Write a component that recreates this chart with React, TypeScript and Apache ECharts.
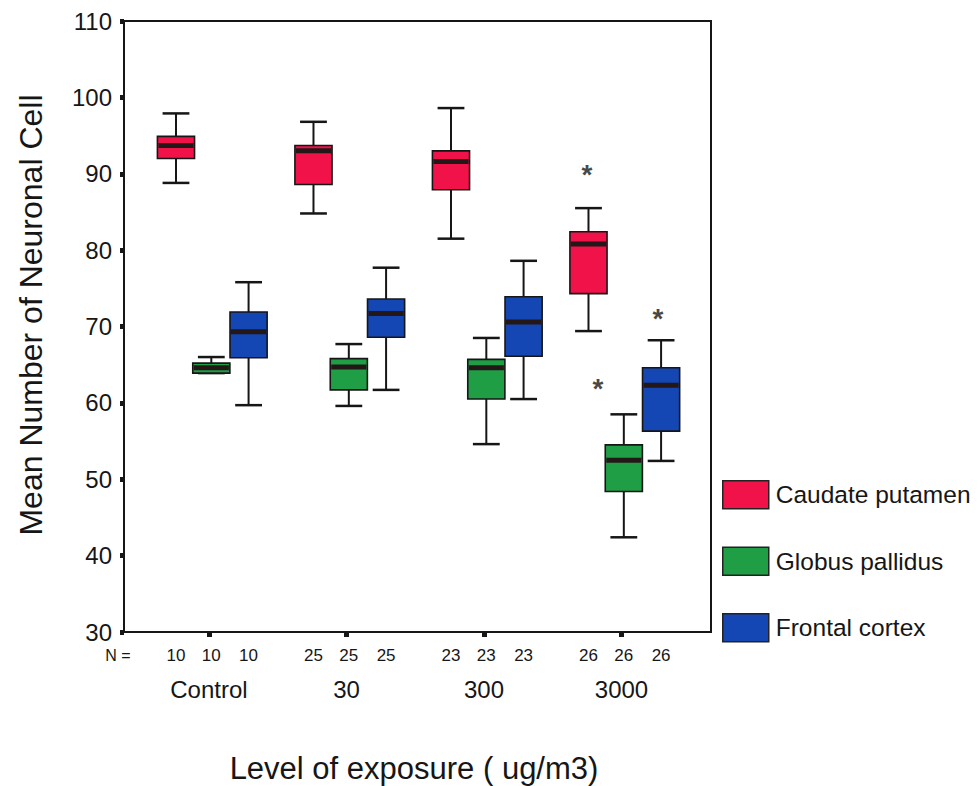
import React, { useEffect, useRef } from "react";
import * as echarts from "echarts";

// ---- data ----
const groups = ["Control", "30", "300", "3000"];
const seriesNames = ["Caudate putamen", "Globus pallidus", "Frontal cortex"];
const nCounts = [10, 25, 23, 26];

// [min, Q1, median, Q3, max]
const caudatePutamen = [
  [88.8, 92.0, 93.7, 94.9, 97.9],
  [84.8, 88.6, 93.0, 93.7, 96.8],
  [81.5, 87.9, 91.6, 93.0, 98.6],
  [69.4, 74.3, 80.8, 82.4, 85.5],
];
const globusPallidus = [
  [63.9, 63.9, 64.6, 65.2, 66.0],
  [59.6, 61.7, 64.7, 65.8, 67.7],
  [54.6, 60.5, 64.6, 65.7, 68.5],
  [42.4, 48.4, 52.5, 54.5, 58.5],
];
const frontalCortex = [
  [59.7, 65.9, 69.3, 71.9, 75.8],
  [61.7, 68.6, 71.7, 73.6, 77.7],
  [60.5, 66.1, 70.6, 73.9, 78.6],
  [52.4, 56.3, 62.3, 64.6, 68.2],
];

// significance markers (*): group index, value
const starGroups = [3, 3, 3];
const starValues = [90.5, 62.6, 71.7];

// ---- layout / style ----
const COLORS = ["#F2124A", "#1F9E45", "#1446B4"];
const SERIES_OFFSET = [-0.24, 0.017, 0.288];
const STAR_OFFSET = [-0.251, -0.171, 0.265];
const BOX_UNITS = 0.27;
const CAP_UNITS = 0.195;
const X_MIN = -0.618;
const X_MAX = 3.651;
const FONT = "'Liberation Sans', Arial, Helvetica, sans-serif";
const INK = "#161616";

const allData = [caudatePutamen, globusPallidus, frontalCortex];
const nPositions: number[] = [];
const nLabels: string[] = [];
groups.forEach((_, gi) => {
  SERIES_OFFSET.forEach((off) => {
    nPositions.push(gi + off);
    nLabels.push(String(nCounts[gi]));
  });
});

export default function App() {
  const ref = useRef<HTMLDivElement>(null);
  useEffect(() => {
    if (!ref.current) return;
    const chart = echarts.init(ref.current, undefined, { renderer: "svg" });

    const boxSeries = allData.map((rows, si) => ({
      type: "custom",
      name: seriesNames[si],
      xAxisIndex: 0,
      yAxisIndex: 0,
      itemStyle: { color: COLORS[si] },
      encode: { x: 0, y: [1, 2, 3, 4, 5] },
      data: rows.map((r, gi) => [gi + SERIES_OFFSET[si], ...r]),
      renderItem: (params: any, api: any) => {
        const x = api.value(0);
        const lo = api.coord([x, api.value(1)]);
        const q1 = api.coord([x, api.value(2)]);
        const med = api.coord([x, api.value(3)]);
        const q3 = api.coord([x, api.value(4)]);
        const hi = api.coord([x, api.value(5)]);
        const bw = api.size([BOX_UNITS, 0])[0];
        const cw = api.size([CAP_UNITS, 0])[0];
        const cx = lo[0];
        const ls = { stroke: INK, lineWidth: 2 };
        return {
          type: "group",
          children: [
            { type: "line", shape: { x1: cx, y1: hi[1], x2: cx, y2: q3[1] }, style: ls },
            { type: "line", shape: { x1: cx, y1: q1[1], x2: cx, y2: lo[1] }, style: ls },
            { type: "line", shape: { x1: cx - cw / 2, y1: hi[1], x2: cx + cw / 2, y2: hi[1] }, style: { stroke: INK, lineWidth: 2.5 } },
            { type: "line", shape: { x1: cx - cw / 2, y1: lo[1], x2: cx + cw / 2, y2: lo[1] }, style: { stroke: INK, lineWidth: 2.5 } },
            {
              type: "rect",
              shape: { x: cx - bw / 2, y: q3[1], width: bw, height: Math.max(q1[1] - q3[1], 1) },
              style: { fill: COLORS[si], stroke: INK, lineWidth: 1.6 },
            },
            {
              type: "line",
              shape: { x1: cx - bw / 2 + 1, y1: med[1], x2: cx + bw / 2 - 1, y2: med[1] },
              style: { stroke: "#231717", lineWidth: 5 },
            },
          ],
        };
      },
    }));

    const option: any = {
      animation: false,
      backgroundColor: "#ffffff",
      textStyle: { fontFamily: FONT },
      grid: {
        left: 124,
        right: 268,
        top: 21,
        bottom: 154,
        show: true,
        borderColor: INK,
        borderWidth: 2,
        backgroundColor: "transparent",
      },
      legend: {
        orient: "vertical",
        left: 722,
        top: 480,
        padding: 0,
        itemWidth: 46,
        itemHeight: 28,
        itemGap: 37,
        icon: "rect",
        selectedMode: false,
        itemStyle: { borderColor: "#222", borderWidth: 1.5 },
        textStyle: { fontSize: 24.5, color: INK, fontFamily: FONT, padding: [0, 0, 0, 2] },
        data: seriesNames,
      },
      xAxis: [
        {
          type: "value",
          min: X_MIN,
          max: X_MAX,
          position: "bottom",
          splitLine: { show: false },
          axisLine: { show: true, onZero: false, lineStyle: { color: INK, width: 2 } },
          axisTick: {
            show: true,
            customValues: [0, 1, 2, 3],
            length: 5,
            lineStyle: { color: INK, width: 5 },
          },
          axisLabel: {
            show: true,
            customValues: [0, 1, 2, 3],
            margin: 45,
            fontSize: 24,
            color: INK,
            fontFamily: FONT,
            formatter: (v: number) => groups[Math.round(v)] ?? "",
          },
        },
        {
          type: "value",
          min: X_MIN,
          max: X_MAX,
          position: "bottom",
          offset: 0,
          splitLine: { show: false },
          axisLine: { show: false, onZero: false },
          axisTick: { show: false },
          axisLabel: {
            show: true,
            customValues: nPositions,
            margin: 15,
            fontSize: 17,
            color: INK,
            fontFamily: FONT,
            formatter: (v: number) => {
              const i = nPositions.findIndex((p) => Math.abs(p - v) < 1e-6);
              return i >= 0 ? nLabels[i] : "";
            },
          },
        },
      ],
      yAxis: {
        type: "value",
        min: 30,
        max: 110,
        interval: 10,
        splitLine: { show: false },
        axisLine: { show: true, onZero: false, lineStyle: { color: INK, width: 2 } },
        axisTick: { show: true, length: 4, lineStyle: { color: INK, width: 5 } },
        axisLabel: { fontSize: 24, color: INK, margin: 12, fontFamily: FONT },
      },
      graphic: [
        {
          type: "text",
          x: 31,
          y: 315,
          rotation: Math.PI / 2,
          style: {
            text: "Mean Number of Neuronal Cell",
            fontSize: 32,
            fontFamily: FONT,
            fill: INK,
            align: "center",
            verticalAlign: "middle",
          },
        },
        {
          type: "text",
          x: 414,
          y: 768,
          style: {
            text: "Level of exposure ( ug/m3)",
            fontSize: 31,
            fontFamily: FONT,
            fill: INK,
            align: "center",
            verticalAlign: "middle",
          },
        },
        {
          type: "text",
          x: 118,
          y: 655,
          style: {
            text: "N =",
            fontSize: 16,
            fontFamily: FONT,
            fill: INK,
            align: "center",
            verticalAlign: "middle",
          },
        },
      ],
      series: [
        ...boxSeries,
        {
          type: "scatter",
          name: "significance",
          xAxisIndex: 0,
          yAxisIndex: 0,
          symbolSize: 1,
          silent: true,
          itemStyle: { color: "rgba(0,0,0,0)" },
          data: starGroups.map((g, i) => [g + STAR_OFFSET[i], starValues[i]]),
          label: {
            show: true,
            position: "inside",
            formatter: "*",
            fontSize: 28,
            fontWeight: "bold",
            color: INK,
            offset: [0, 5],
            fontFamily: FONT,
          },
        },
      ],
    };

    chart.setOption(option);
    return () => chart.dispose();
  }, []);

  return (
    <div
      ref={ref}
      style={{ position: "fixed", left: 0, top: 0, width: 979, height: 786, background: "#fff" }}
    />
  );
}
